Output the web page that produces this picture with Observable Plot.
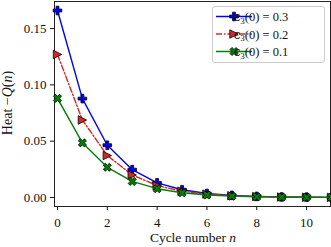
<!DOCTYPE html>
<html>
<head>
<meta charset="utf-8">
<script src="https://cdn.jsdelivr.net/npm/d3@7"></script>
<script src="https://cdn.jsdelivr.net/npm/@observablehq/plot@0.6"></script>
<style>
  html, body { margin: 0; padding: 0; background: white; }
  svg { display: block; }
</style>
</head>
<body>
<div id="chart"></div>
<script>
const cycles = [0, 1, 2, 3, 4, 5, 6, 7, 8, 9, 10, 11];
const heat03 = [0.166, 0.0878, 0.0464, 0.0247, 0.0130, 0.0069, 0.0036, 0.0019, 0.0010, 0.0005, 0.0003, 0.0001];
const heat02 = [0.127, 0.0688, 0.0372, 0.0200, 0.0106, 0.0056, 0.0030, 0.0016, 0.0008, 0.0004, 0.0002, 0.0001];
const heat01 = [0.088, 0.0485, 0.0268, 0.0143, 0.0078, 0.0042, 0.0022, 0.0012, 0.0006, 0.0003, 0.0002, 0.0001];
const seriesLabels = ["0.3", "0.2", "0.1"];
const xTicks = [0, 2, 4, 6, 8, 10];
const yTicks = [0, 0.05, 0.10, 0.15];

// custom symbols (size = r*r*PI)
function plusPath(ctx, h, rot) {
  const a = h / 3;
  const pts = [[a, h], [a, a], [h, a], [h, -a], [a, -a], [a, -h], [-a, -h], [-a, -a], [-h, -a], [-h, a], [-a, a], [-a, h]];
  const c = Math.cos(rot), s = Math.sin(rot);
  pts.forEach(([x, y], i) => {
    const X = x * c - y * s, Y = x * s + y * c;
    i ? ctx.lineTo(X, Y) : ctx.moveTo(X, Y);
  });
  ctx.closePath();
}
const plusFilled = { draw(ctx, size) { plusPath(ctx, Math.sqrt(size / Math.PI), 0); } };
const xFilled = { draw(ctx, size) { plusPath(ctx, Math.sqrt(size / Math.PI) * 1.1, Math.PI / 4); } };
const triRight = { draw(ctx, size) {
  const h = Math.sqrt(size / Math.PI);
  ctx.moveTo(h, 0); ctx.lineTo(-h, h); ctx.lineTo(-h, -h); ctx.closePath();
} };

const series = [
  { label: seriesLabels[0], values: heat03, color: "#0000ff", dash: null, symbol: plusFilled, r: 4.3 },
  { label: seriesLabels[1], values: heat02, color: "#d62728", dash: "6,2,1.5,2", symbol: triRight, r: 4.2 },
  { label: seriesLabels[2], values: heat01, color: "#008000", dash: null, symbol: xFilled, r: 3.9 }
];

const marks = [Plot.frame({ stroke: "#222", strokeWidth: 1 })];
for (const s of series) {
  const data = cycles.map((n, i) => ({ n, q: s.values[i] }));
  marks.push(Plot.line(data, { x: "n", y: "q", stroke: s.color, strokeWidth: 1.4, strokeDasharray: s.dash }));
  marks.push(Plot.dot(data, { x: "n", y: "q", symbol: s.symbol, r: s.r, fill: s.color, stroke: "black", strokeWidth: 0.8 }));
}
marks.push(Plot.axisX({ ticks: xTicks, tickSize: 4, tickPadding: 7, tickFormat: d => String(d), label: null, fontSize: 13 }));
marks.push(Plot.axisY({ ticks: yTicks, tickSize: 4, tickPadding: 4, tickFormat: d3.format(".2f"), label: null, fontSize: 13 }));

const chart = Plot.plot({
  width: 331,
  height: 247,
  marginLeft: 54,
  marginRight: 1,
  marginTop: 1,
  marginBottom: 41,
  style: { fontFamily: "'Liberation Serif', 'DejaVu Serif', serif", fontSize: "13px", background: "white", color: "#111" },
  x: { domain: [-0.12, 10.96] },
  y: { domain: [-0.008, 0.174] },
  marks
});
document.getElementById("chart").appendChild(chart);

const svg = d3.select(chart);
const ff = "'Liberation Serif', 'DejaVu Serif', serif";

// x label
const xl = svg.append("text").attr("x", 193).attr("y", 242).attr("text-anchor", "middle")
  .attr("font-family", ff).attr("font-size", 13.5).attr("fill", "#111");
xl.append("tspan").text("Cycle number ");
xl.append("tspan").attr("font-style", "italic").text("n");

// y label
const yl = svg.append("text").attr("transform", "translate(12,103) rotate(-90)").attr("text-anchor", "middle")
  .attr("font-family", ff).attr("font-size", 14).attr("fill", "#111");
yl.append("tspan").text("Heat \u2212");
yl.append("tspan").attr("font-style", "italic").text("Q");
yl.append("tspan").text("(");
yl.append("tspan").attr("font-style", "italic").text("n");
yl.append("tspan").text(")");

// legend
const lg = svg.append("g");
lg.append("rect").attr("x", 212.5).attr("y", 6.5).attr("width", 112).attr("height", 56).attr("rx", 2.5)
  .attr("fill", "white").attr("fill-opacity", 0.85).attr("stroke", "#cccccc").attr("stroke-width", 1);
series.forEach((s, i) => {
  const y = 16.5 + i * 17.5;
  lg.append("line").attr("x1", 216).attr("x2", 252).attr("y1", y).attr("y2", y)
    .attr("stroke", s.color).attr("stroke-width", 1.4).attr("stroke-dasharray", s.dash);
  const path = d3.path();
  s.symbol.draw(path, s.r * s.r * Math.PI);
  lg.append("path").attr("d", path.toString()).attr("transform", `translate(234,${y})`)
    .attr("fill", s.color).attr("stroke", "black").attr("stroke-width", 0.8);
  const t = lg.append("text").attr("x", 261).attr("y", y + 4.5).attr("font-family", ff)
    .attr("font-size", 12.5).attr("fill", "#111");
  t.append("tspan").attr("font-family", "'DejaVu Serif', serif").attr("font-size", 12).text("\u03f5");
  t.append("tspan").attr("font-size", 9).attr("dy", 2.5).text("3");
  t.append("tspan").attr("dy", -2.5).text(`(0) = ${s.label}`);
});
</script>
</body>
</html>
